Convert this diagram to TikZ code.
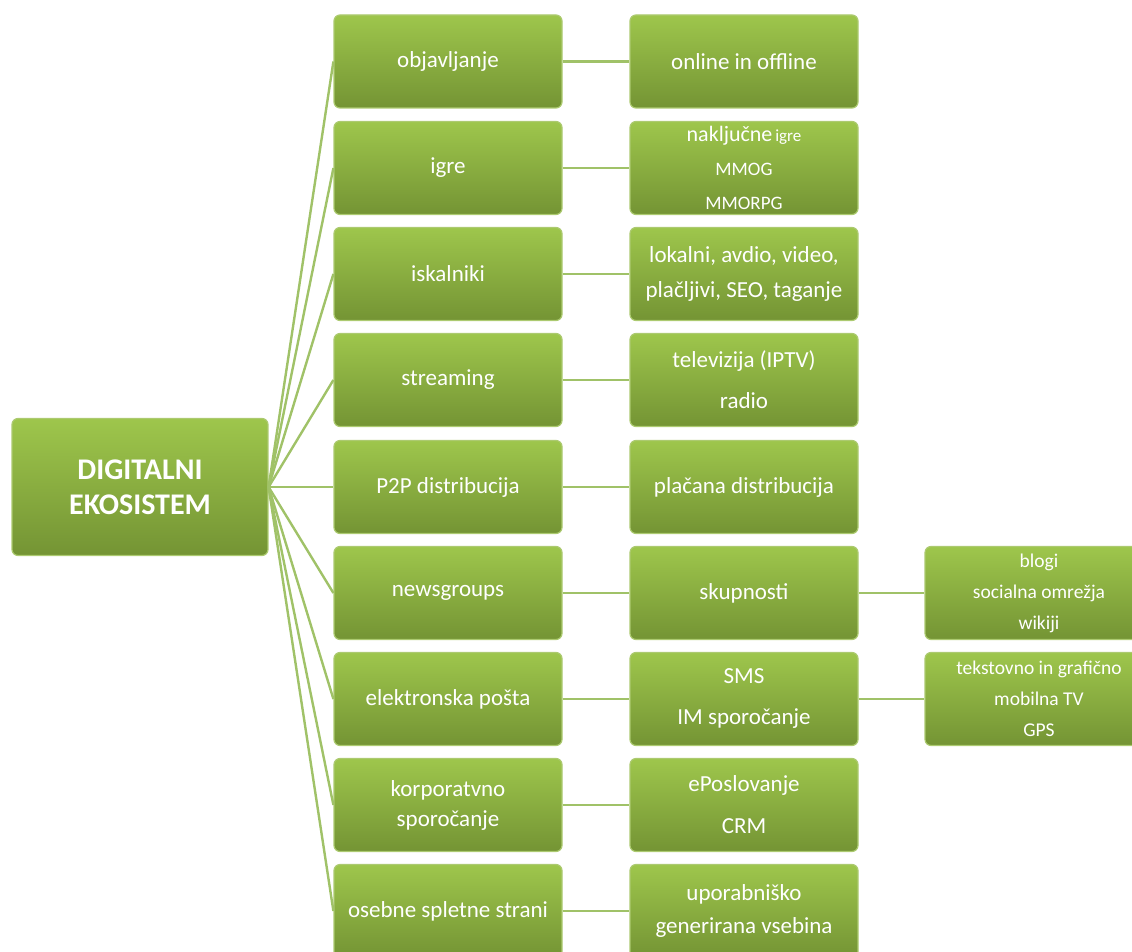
\documentclass[tikz,border=0pt]{standalone}
\usepackage{fontspec}
\setmainfont{Carlito}
\usetikzlibrary{positioning}

\definecolor{boxtop}{RGB}{158,198,76}
\definecolor{boxbot}{RGB}{116,148,52}
\definecolor{boxline}{RGB}{172,202,112}
\definecolor{linkgreen}{RGB}{160,194,104}

\tikzset{
  box/.style={rectangle, rounded corners=6pt, draw=boxline, line width=1.2pt,
    top color=boxtop, bottom color=boxbot, text=white,
    minimum width=228pt, minimum height=93pt, inner sep=2pt, align=center,
    font=\fontsize{23}{27}\selectfont},
  rootbox/.style={box, minimum width=256pt, minimum height=137pt,
    font=\fontsize{30}{35}\selectfont\bfseries},
  smallbox/.style={box, font=\fontsize{19.5}{31}\selectfont},
  link/.style={draw=linkgreen, line width=2.4pt}
}

\begin{document}
\begin{tikzpicture}[x=1pt,y=1pt]
  \useasboundingbox (0,0) rectangle (1132,-952);
  \node (ekosistem) at (140,-487) [rootbox] {DIGITALNI\\EKOSISTEM};

  % first column
  \node (objavljanje) at (448,-61.5) [box] {objavljanje};
  \node (igre) at (448,-168) [box] {igre};
  \node (iskalniki) at (448,-274) [box] {iskalniki};
  \node (streaming) at (448,-380) [box] {streaming};
  \node (ptp) at (448,-487) [box] {P2P distribucija};
  \node (newsgroups) at (448,-593) [box] {newsgroups};
  \node (posta) at (448,-699) [box] {elektronska pošta};
  \node (korporativno) at (448,-805) [box, font=\fontsize{23}{30}\selectfont] {korporatvno\\sporočanje};
  \node (osebne) at (448,-911) [box] {osebne spletne strani};

  % second column
  \node (offline) at (744,-61.5) [box] {online in offline};
  \node (nakljucne) at (744,-168) [box, font=\fontsize{19}{34}\selectfont]
    {{\fontsize{22}{26}\selectfont naključne}{\fontsize{17}{26}\selectfont\,igre}\\MMOG\\MMORPG};
  \node (lokalni) at (744,-274) [box, font=\fontsize{23}{35}\selectfont] {lokalni, avdio, video,\\plačljivi, SEO, taganje};
  \node (iptv) at (744,-380) [box, font=\fontsize{23}{41}\selectfont] {televizija (IPTV)\\radio};
  \node (placana) at (744,-487) [box] {plačana distribucija};
  \node (skupnosti) at (744,-593) [box] {skupnosti};
  \node (sms) at (744,-699) [box, font=\fontsize{23}{41}\selectfont] {SMS\\IM sporočanje};
  \node (eposlovanje) at (744,-805) [box, font=\fontsize{23}{42}\selectfont] {ePoslovanje\\CRM};
  \node (vsebina) at (744,-911) [box, font=\fontsize{23}{33}\selectfont] {uporabniško\\generirana vsebina};

  % third column
  \node (blogi) at (1039,-593) [smallbox] {blogi\\socialna omrežja\\wikiji};
  \node (mobilna) at (1039,-699) [smallbox] {tekstovno in grafično\\mobilna TV\\GPS};

  % connectors
  \draw [link] (ekosistem.east) -- (objavljanje.west);
  \draw [link] (ekosistem.east) -- (igre.west);
  \draw [link] (ekosistem.east) -- (iskalniki.west);
  \draw [link] (ekosistem.east) -- (streaming.west);
  \draw [link] (ekosistem.east) -- (ptp.west);
  \draw [link] (ekosistem.east) -- (newsgroups.west);
  \draw [link] (ekosistem.east) -- (posta.west);
  \draw [link] (ekosistem.east) -- (korporativno.west);
  \draw [link] (ekosistem.east) -- (osebne.west);

  \draw [link] (objavljanje) -- (offline);
  \draw [link] (igre) -- (nakljucne);
  \draw [link] (iskalniki) -- (lokalni);
  \draw [link] (streaming) -- (iptv);
  \draw [link] (ptp) -- (placana);
  \draw [link] (newsgroups) -- (skupnosti);
  \draw [link] (posta) -- (sms);
  \draw [link] (korporativno) -- (eposlovanje);
  \draw [link] (osebne) -- (vsebina);

  \draw [link] (skupnosti) -- (blogi);
  \draw [link] (sms) -- (mobilna);
\end{tikzpicture}
\end{document}
